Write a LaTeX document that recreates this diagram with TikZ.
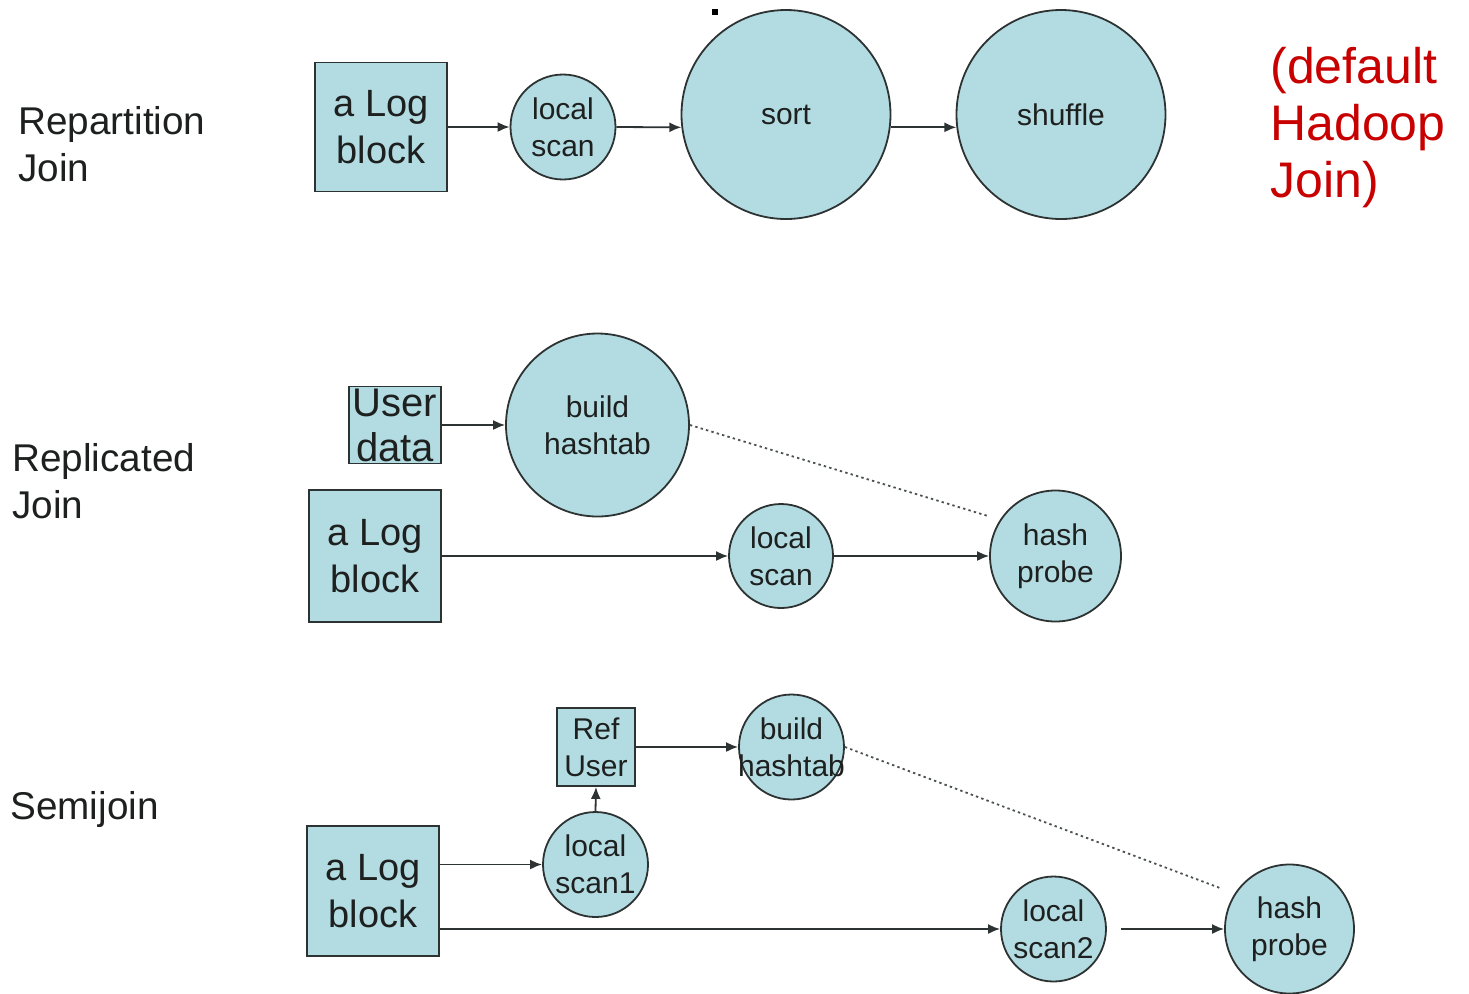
\documentclass[tikz,border=0pt]{standalone}
\usepackage{fontspec}
\setmainfont{Liberation Sans}
\usetikzlibrary{arrows.meta,calc}
\definecolor{nodefill}{RGB}{178,220,225}
\definecolor{edgecol}{RGB}{45,50,50}
\definecolor{redtxt}{RGB}{200,0,0}
\definecolor{txtcol}{RGB}{30,32,32}
\begin{document}
\begin{tikzpicture}[x=0.5pt,y=-0.5pt,
 shapebase/.style={draw=edgecol, line width=0.9pt, fill=nodefill, inner sep=0pt, align=center, text=txtcol},
 boxnode/.style={shapebase, rectangle},
 circnode/.style={shapebase, circle},
 bigtxt/.style={font=\fontsize{19}{23.5}\selectfont},
 smalltxt/.style={font=\fontsize{15}{18.5}\selectfont},
 arr/.style={draw=edgecol, line width=0.9pt, -{Latex[length=6pt,width=5pt]}},
 dots/.style={draw=edgecol!85, line width=0.9pt, dash pattern=on 1.2pt off 1.6pt},
 sidelabel/.style={font=\fontsize{19.35}{23.5}\selectfont, align=left, inner sep=0pt, text=txtcol, anchor=west},
 redlabel/.style={font=\fontsize{25}{28.5}\selectfont, align=left, inner sep=0pt, text=redtxt, anchor=west}]
\useasboundingbox (0,0) rectangle (1469,993);

% side labels
\node[sidelabel] (lab1) at (18,144.5) {Repartition\\Join};
\node[sidelabel] (lab2) at (12,481.5) {Replicated\\Join};
\node[sidelabel, anchor=base west] (lab3) at (10,819) {Semijoin};
\node[redlabel] (lab4) at (1270,128) {(default\\Hadoop\\Join)};

% small artifact mark
\fill[black] (712,9) rectangle (718,15);

% Row 1: repartition join
\node[boxnode, bigtxt, minimum width=66pt, minimum height=64.5pt] (lb1) at (381,127) {a Log\\block};
\node[circnode, smalltxt, minimum size=52.5pt] (ls1) at (563,127) {local\\scan};
\node[circnode, smalltxt, minimum size=104.5pt] (sort) at (786,114.5) {sort};
\node[circnode, smalltxt, minimum size=104.5pt] (shuf) at (1061,114.5) {shuffle};
\draw[arr] (lb1.east) -- (ls1.west);
\draw[arr] (ls1.east) -- (sort.187);
\draw[arr] (sort.-7) -- (shuf.187);

% Row 2: replicated join
\node[boxnode, font=\fontsize{20}{22.5}\selectfont, minimum width=46pt, minimum height=38.5pt] (ud) at (395,425) {User\\data};
\node[circnode, smalltxt, minimum size=91.5pt] (bh) at (597.5,425) {build\\hashtab};
\node[boxnode, bigtxt, minimum width=66pt, minimum height=66pt] (lb2) at (375,556) {a Log\\block};
\node[circnode, smalltxt, minimum size=52pt] (ls2) at (781,556) {local\\scan};
\node[circnode, smalltxt, minimum size=65.5pt] (hp) at (1055.5,556) {hash\\probe};
\coordinate (dp2) at (988,516);
\draw[arr] (ud.east) -- (bh.west);
\draw[arr] (lb2.east) -- (ls2.west);
\draw[arr] (ls2.east) -- (hp.west);
\draw[dots] (bh.east) -- (dp2);

% Row 3: semijoin
\node[boxnode, smalltxt, minimum size=39pt] (ru) at (596,747) {Ref\\User};
\node[circnode, smalltxt, minimum size=52.5pt] (bh3) at (791.5,747) {build\\\makebox[0pt]{hashtab}};
\node[circnode, smalltxt, minimum size=52.5pt] (ls3) at (595.5,864.5) {local\\scan1};
\node[boxnode, bigtxt, minimum width=66pt, minimum height=65pt] (lb3) at (373,891) {a Log\\block};
\node[circnode, smalltxt, minimum size=52.5pt] (ls4) at (1053.5,929) {local\\scan2};
\node[circnode, smalltxt, minimum size=64.5pt] (hp3) at (1289.5,929) {hash\\probe};
\coordinate (dp3) at (1220,888);
\draw[arr] (lb3.east |- ls3.west) -- (ls3.west);
\draw[arr] (lb3.east |- ls4.west) -- (ls4.west);
\draw[arr] (ls3.north) -- (ru.south);
\draw[arr] (ru.east) -- (bh3.west);
\draw[arr, shorten <=7pt] (ls4.east) -- (hp3.west);
\draw[dots] (bh3.east) -- (dp3);
\end{tikzpicture}
\end{document}
